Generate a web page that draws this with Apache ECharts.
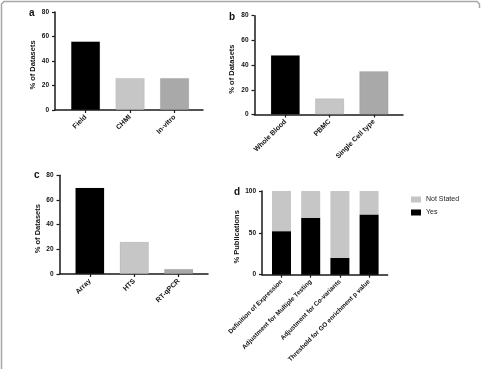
<!DOCTYPE html>
<html><head><meta charset="utf-8">
<script src="https://cdn.jsdelivr.net/npm/echarts@6/dist/echarts.min.js"></script>
<style>html,body{margin:0;padding:0;background:#fff}#c{width:481px;height:369px}</style>
</head><body><div id="c"></div>
<script>
const catA = ['Field','CHMI','In-vitro'];
const valA = [56, 26, 26];
const catB = ['Whole Blood','PBMC','Single Cell type'];
const valB = [48, 13, 35];
const catC = ['Array','HTS','RT-qPCR'];
const valC = [70, 26, 4];
const catD = ['Definition of Expression','Adjustment for Multiple Testing','Adjustment for Co-variants','Threshold for GO enrichment p value'];
const yesD = [52, 68, 20, 72];
const notStatedD = [48, 32, 80, 28];
const ticksABC = [0, 20, 40, 60, 80];
const ticksD = [0, 50, 100];

const FONT = 'Liberation Sans';
const AX = '#1a1a1a';
const BLACK = '#000000', LIGHT = '#c6c6c6', MID = '#a9a9a9';

const panels = [
  {outer:{left:55, top:12, width:148, height:98}, innerLeft:63.3, innerWidth:133.5, cats:catA, max:80, ticks:ticksABC, name:'% of Datasets', gap:18, labSize:7},
  {outer:{left:254.5, top:15.7, width:148.5, height:98.8}, innerLeft:263.2, innerWidth:132.8, cats:catB, max:80, ticks:ticksABC, name:'% of Datasets', gap:19, labSize:7},
  {outer:{left:59.5, top:175.3, width:148.5, height:98.7}, innerLeft:67.6, innerWidth:133.3, cats:catC, max:80, ticks:ticksABC, name:'% of Datasets', gap:16.5, labSize:7},
  {outer:{left:262, top:191, width:125.7, height:83.7}, innerLeft:266.9, innerWidth:116.8, cats:catD, max:100, ticks:ticksD, name:'% Publications', gap:18, labSize:6.4}
];

const grid = [], xAxis = [], yAxis = [];
panels.forEach((p, i) => {
  grid.push({left:p.outer.left, top:p.outer.top, width:p.outer.width, height:p.outer.height});
  grid.push({left:p.innerLeft, top:p.outer.top, width:p.innerWidth, height:p.outer.height});
  const interval = p.ticks[1] - p.ticks[0];
  xAxis.push({type:'value', gridIndex:2*i, min:0, max:1, axisLabel:{show:false}, axisTick:{show:false}, splitLine:{show:false},
    axisLine:{show:true, onZero:false, lineStyle:{color:AX, width:1.5}}});
  yAxis.push({type:'value', gridIndex:2*i, min:p.ticks[0], max:p.max, interval:interval,
    name:p.name, nameLocation:'middle', nameGap:p.gap,
    nameTextStyle:{fontFamily:FONT, fontWeight:'bold', fontSize:7.5, color:'#111', padding:[0,0,0,-8]},
    axisLine:{show:true, lineStyle:{color:AX, width:1.5}},
    axisTick:{show:true, length:3, lineStyle:{color:AX, width:1.2}},
    axisLabel:{fontFamily:FONT, fontWeight:'bold', fontSize:6.5, color:'#111', margin:6},
    splitLine:{show:false}});
  xAxis.push({type:'category', gridIndex:2*i+1, data:p.cats,
    axisLine:{show:false}, axisTick:{show:true, alignWithLabel:true, length:3, lineStyle:{color:AX, width:1.2}},
    axisLabel:{rotate:45, interval:0, fontFamily:FONT, fontWeight:'bold', fontSize:p.labSize, color:'#111', margin:6}});
  yAxis.push({type:'value', gridIndex:2*i+1, min:p.ticks[0], max:p.max, interval:interval, show:false, splitLine:{show:false}});
});

function colored(vals, colors){ return vals.map((v,k)=>({value:v, itemStyle:{color:colors[k]}})); }

const series = [
  {type:'bar', xAxisIndex:1, yAxisIndex:1, barWidth:29, data:colored(valA,[BLACK,LIGHT,MID]), itemStyle:{borderColor:'rgba(0,0,0,0.15)', borderWidth:0.5}},
  {type:'bar', xAxisIndex:3, yAxisIndex:3, barWidth:29, data:colored(valB,[BLACK,LIGHT,MID]), itemStyle:{borderColor:'rgba(0,0,0,0.15)', borderWidth:0.5}},
  {type:'bar', xAxisIndex:5, yAxisIndex:5, barWidth:29, data:colored(valC,[BLACK,LIGHT,MID]), itemStyle:{borderColor:'rgba(0,0,0,0.15)', borderWidth:0.5}},
  {name:'Yes', type:'bar', stack:'d', xAxisIndex:7, yAxisIndex:7, barWidth:19, data:yesD, itemStyle:{color:BLACK}},
  {name:'Not Stated', type:'bar', stack:'d', xAxisIndex:7, yAxisIndex:7, barWidth:19, data:notStatedD, itemStyle:{color:LIGHT}}
];

const letters = [['a',32,14],['b',232,18],['c',37,176],['d',237,193]];
const graphic = letters.map(l=>({type:'text', left:l[1]-3, top:l[2]-6, style:{text:l[0], font:'bold 10px "Liberation Sans"', fill:'#111'}}));
graphic.push({type:'polyline', shape:{points:[[1.5,380],[1.5,4],[4,1.5],[477,1.5],[479.5,4],[479.5,8]]}, style:{stroke:'#a6a6a6', lineWidth:1.5, fill:null}});

const chart = echarts.init(document.getElementById('c'), null, {renderer:'canvas'});
chart.setOption({
  animation:false,
  backgroundColor:'#fff',
  grid, xAxis, yAxis, series, graphic,
  legend:{data:['Not Stated','Yes'], orient:'vertical', left:406, top:191, itemWidth:10, itemHeight:6, itemGap:6,
    textStyle:{fontFamily:FONT, fontSize:7, color:'#222'}, icon:'rect'}
});
</script></body></html>
